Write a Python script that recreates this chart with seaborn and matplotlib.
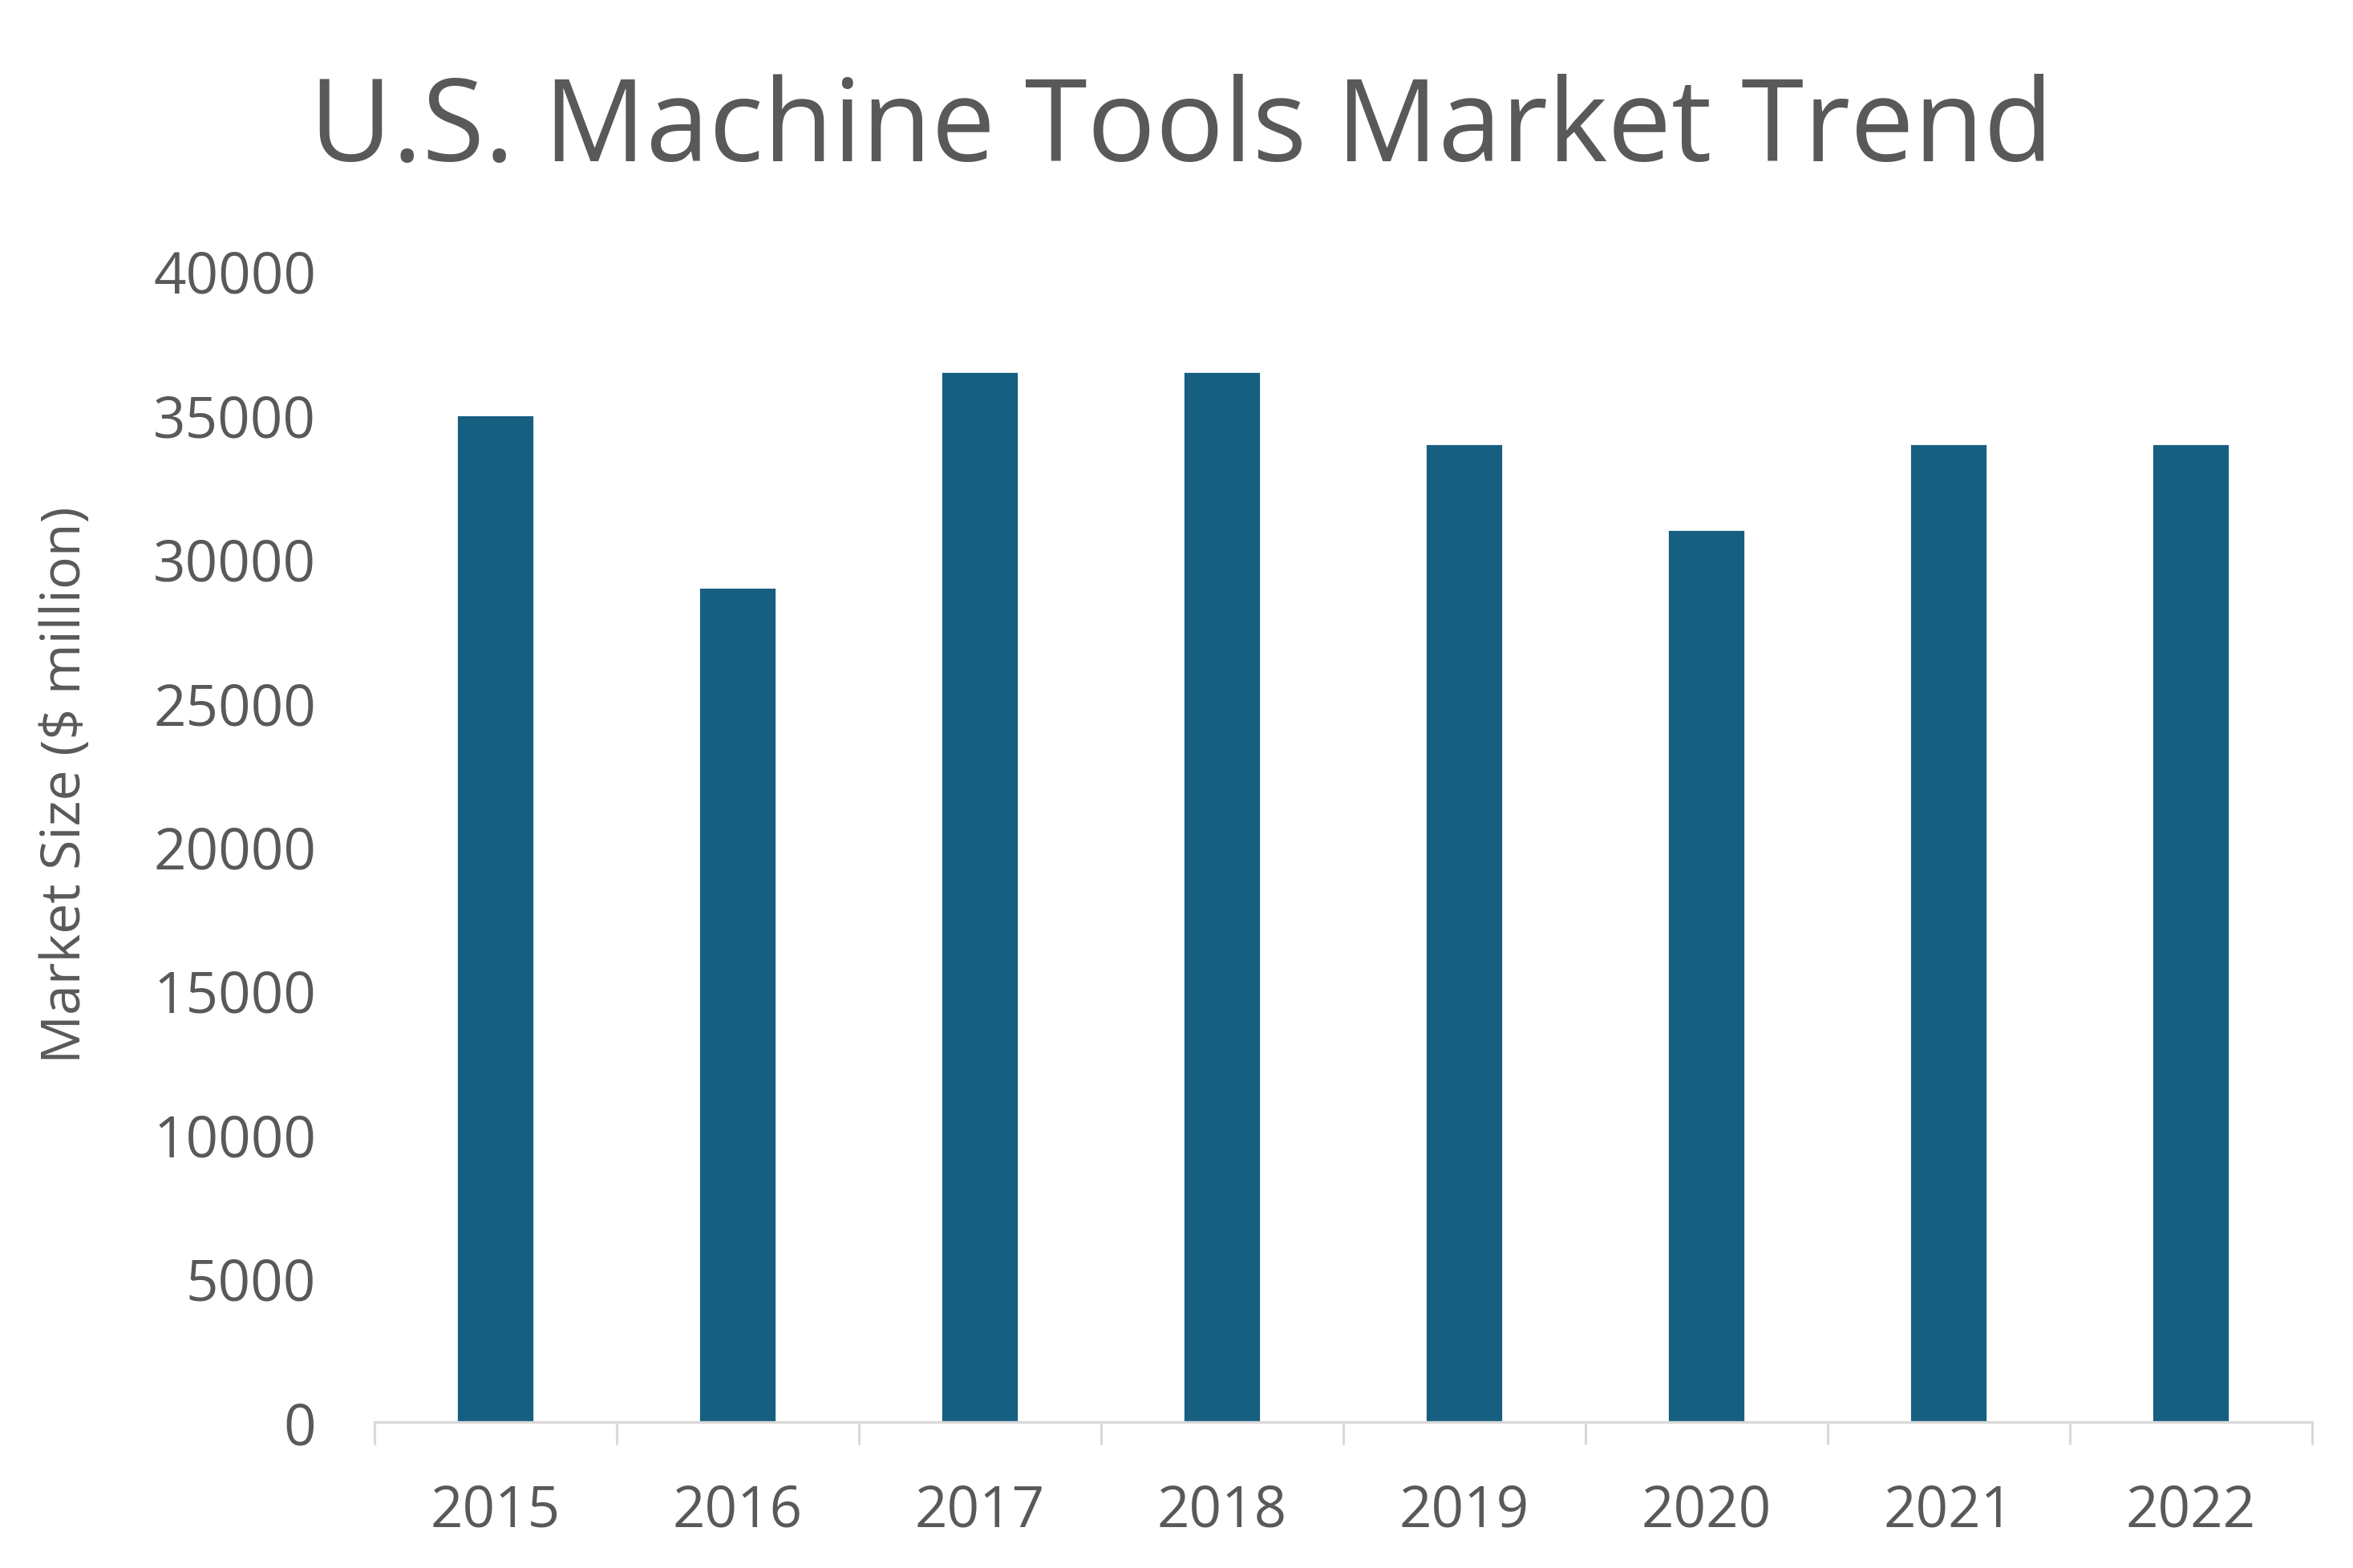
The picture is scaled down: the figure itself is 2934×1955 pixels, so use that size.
import matplotlib
matplotlib.use("Agg")
import matplotlib.pyplot as plt
import pandas as pd
import seaborn as sns

years = ["2015", "2016", "2017", "2018", "2019", "2020", "2021", "2022"]
market_size = [35000, 29000, 36500, 36500, 34000, 31000, 34000, 34000]
y_ticks = [0, 5000, 10000, 15000, 20000, 25000, 30000, 35000, 40000]

df = pd.DataFrame({"year": years, "size": market_size})

sns.set_theme(style="white")
plt.rcParams["font.family"] = ["Open Sans", "DejaVu Sans"]

text_col = "#595959"
bar_col = "#165f80"

fig = plt.figure(figsize=(14.67, 9.78), dpi=200)
ax = fig.add_axes([0.159, 0.093, 0.8235, 0.734])

sns.barplot(data=df, x="year", y="size", color=bar_col, width=0.32,
            saturation=1, ax=ax)

ax.set_ylim(0, 40000)
ax.set_xlim(-0.5, len(years) - 0.5)
ax.set_yticks(y_ticks)
ax.set_yticklabels([str(t) for t in y_ticks])

# tick marks sit between the categories
ax.set_xticks([i - 0.5 for i in range(len(years) + 1)], minor=True)
ax.tick_params(axis="x", which="minor", bottom=True, length=10, width=1.1,
               color="#d9d9d9", direction="out")
ax.tick_params(axis="x", which="major", bottom=True, length=0, pad=27,
               labelsize=25.5, labelcolor=text_col)
ax.tick_params(axis="y", length=0, pad=26, labelsize=25.5, labelcolor=text_col)

for side in ["top", "right", "left"]:
    ax.spines[side].set_visible(False)
ax.spines["bottom"].set_color("#d9d9d9")
ax.spines["bottom"].set_linewidth(1.2)

ax.set_xlabel("")
ax.set_ylabel("Market Size ($ million)", fontsize=24.5, color=text_col)
ax.yaxis.set_label_coords(-0.145, 0.554)

fig.suptitle("U.S. Machine Tools Market Trend", fontsize=51, color=text_col,
             x=0.502, y=0.953, va="top")

fig.savefig("out.png", dpi=200, facecolor="white")
